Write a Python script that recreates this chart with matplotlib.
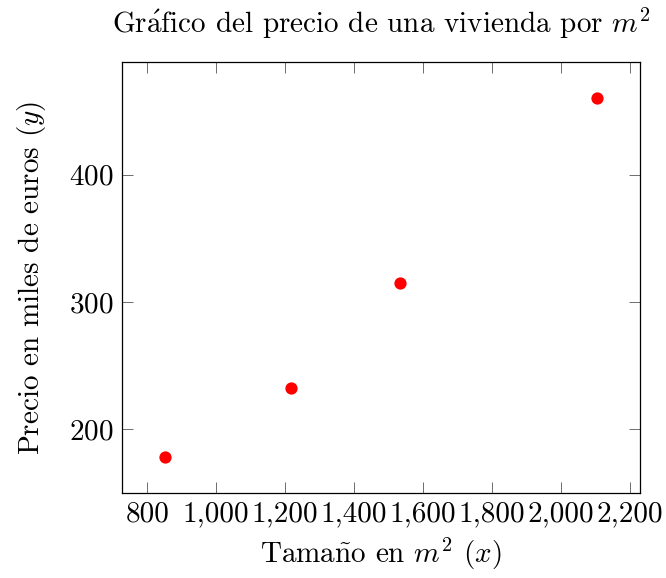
import matplotlib
matplotlib.use("Agg")
import matplotlib.pyplot as plt
from matplotlib.ticker import FuncFormatter

# housing data: size in m^2 vs price in thousands of euros
sizes = [852, 1216, 1534, 2104]
prices = [178, 232, 315, 460]

x_ticks = [800, 1000, 1200, 1400, 1600, 1800, 2000, 2200]
y_ticks = [200, 300, 400]

plt.rcParams['font.family'] = ['cmr10', 'DejaVu Serif']
plt.rcParams['mathtext.fontset'] = 'cm'
plt.rcParams['axes.formatter.use_mathtext'] = True

fs = 21

fig = plt.figure(figsize=(6.66, 5.78), dpi=100)
ax = fig.add_axes([0.1832, 0.147, 0.7778, 0.745])

ax.scatter(sizes, prices, s=78, color='red', zorder=3, linewidths=0)

# pgfplots-like 10% enlargement of the data range
xr = max(sizes) - min(sizes)
yr = max(prices) - min(prices)
ax.set_xlim(min(sizes) - 0.1 * xr, max(sizes) + 0.1 * xr)
ax.set_ylim(min(prices) - 0.1 * yr, max(prices) + 0.1 * yr)

ax.set_xticks(x_ticks)
ax.set_yticks(y_ticks)
ax.xaxis.set_major_formatter(FuncFormatter(lambda v, p: f"{v:,.0f}"))
ax.tick_params(direction='in', top=True, right=True, length=8, width=0.6,
               color='#555555', labelsize=fs, pad=6)
for s in ax.spines.values():
    s.set_linewidth(0.9)

ax.set_title(r"Gr$\acute{\mathrm{a}}$fico del precio de una vivienda por $m^2$",
             fontsize=fs, pad=21)
ax.set_xlabel(r"Tama$\tilde{\mathrm{n}}$o en $m^2$ $(x)$", fontsize=fs, labelpad=6)
ax.set_ylabel(r"Precio en miles de euros $(y)$", fontsize=fs, labelpad=15)

fig.savefig("out.png", dpi=100)
